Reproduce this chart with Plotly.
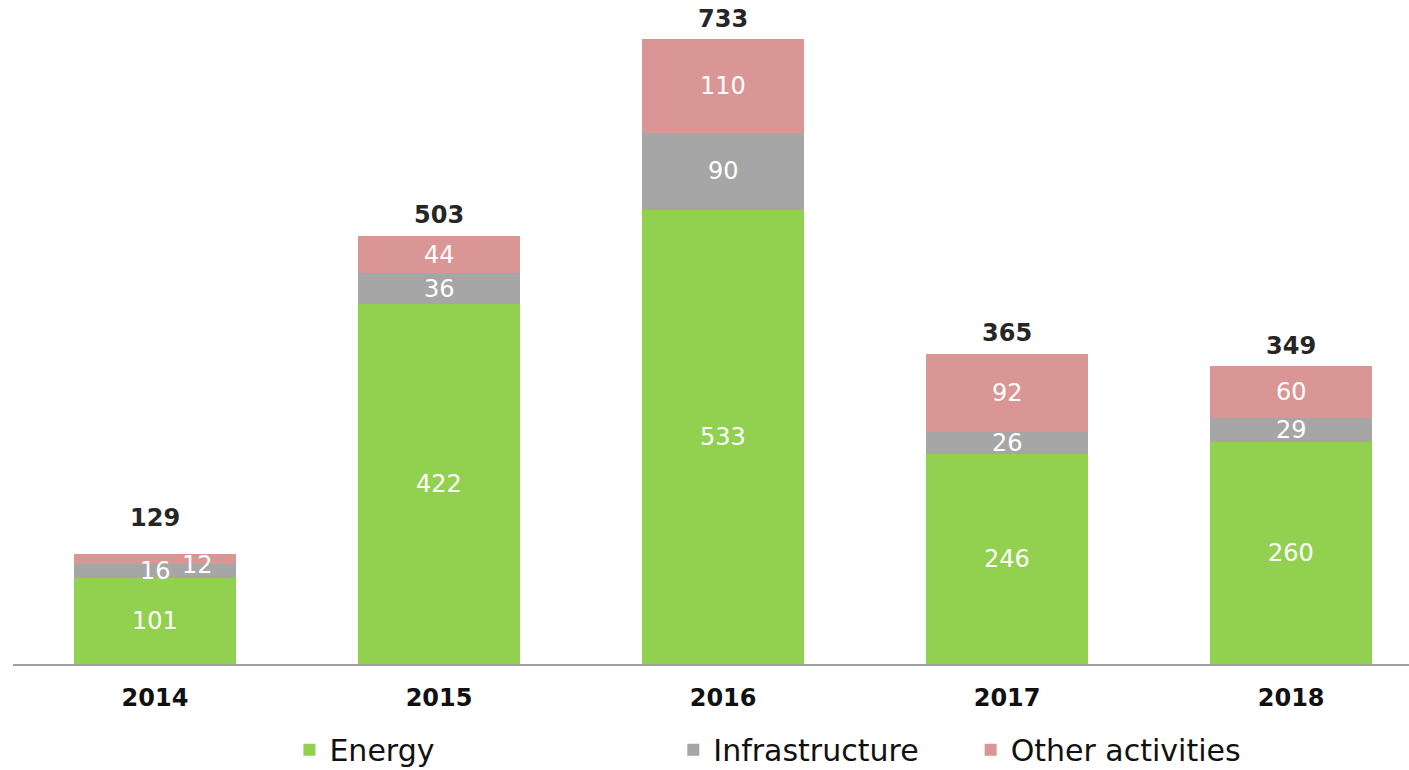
import plotly.graph_objects as go

years = ["2014", "2015", "2016", "2017", "2018"]
energy = [101, 422, 533, 246, 260]
infrastructure = [16, 36, 90, 26, 29]
other = [12, 44, 110, 92, 60]
totals = [129, 503, 733, 365, 349]

colors = {
  "Energy": "#92D050",
  "Infrastructure": "#A6A6A6",
  "Other activities": "#D99694"
}

series = [("Energy", energy, "legend"), ("Infrastructure", infrastructure, "legend2"),
          ("Other activities", other, "legend3")]

fig = go.Figure()
for name, vals, leg in series:
  fig.add_trace(go.Bar(x=years, y=vals, name=name, marker_color=colors[name],
                       marker_line_width=0, legend=leg, textposition="none"))

# segment labels in the middle of each segment (x given as category index,
# since plotly reads "2014" as a number on a category axis)
for i, year in enumerate(years):
  base = 0
  for name, vals, leg in series:
    mid = base + vals[i] / 2
    base += vals[i]
    xshift, yshift = 0, 0
    if year == "2014" and name == "Other activities":
      xshift, yshift = 42, -6
    fig.add_annotation(x=i, y=mid, text=str(vals[i]), showarrow=False,
                       xshift=xshift, yshift=yshift,
                       font=dict(family="DejaVu Sans", size=24, color="white"))
  # the 2014 total sits a bit higher above its bar
  fig.add_annotation(x=i, y=totals[i], text="<b>%d</b>" % totals[i], showarrow=False,
                     yanchor="bottom", yshift=20 if year == "2014" else 4,
                     font=dict(family="DejaVu Sans", size=24, color="#262626"))

legend_style = dict(orientation="h", yanchor="middle", y=-0.129, xanchor="left",
                    bgcolor="rgba(0,0,0,0)",
                    font=dict(family="DejaVu Sans", size=30, color="#111111"))

fig.update_layout(
  barmode="stack",
  bargap=0.43,
  width=1409, height=770,
  margin=dict(l=13, r=0, t=0, b=106, autoexpand=False),
  plot_bgcolor="white", paper_bgcolor="white",
  showlegend=True,
  legend=dict(legend_style, x=0.198),
  legend2=dict(legend_style, x=0.473),
  legend3=dict(legend_style, x=0.686),
)
fig.update_xaxes(type="category", range=[-0.5, 4.415], showline=True, linecolor="#A0A0A0", linewidth=2,
                 ticks="outside", ticklen=11, tickcolor="rgba(0,0,0,0)",
                 tickfont=dict(family="DejaVu Sans", size=24, color="#111111"),
                 tickvals=years, ticktext=["<b>%s</b>" % y for y in years])
fig.update_yaxes(range=[0, 778.7], visible=False)

fig.write_html("out.html", post_script="document.body.style.margin = '0';",
               config={"displayModeBar": False})
